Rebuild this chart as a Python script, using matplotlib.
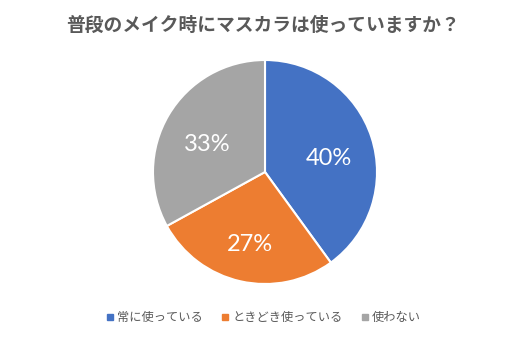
import matplotlib.pyplot as plt
import matplotlib.transforms as mtransforms
from matplotlib.lines import Line2D

# Survey answers and shares (%)
labels = ['常に使っている', 'ときどき使っている', '使わない']
shares = [40, 27, 33]
colors = ['#4472C4', '#ED7D31', '#A5A5A5']
title = '普段のメイク時にマスカラは使っていますか？'

plt.rcParams['font.family'] = ['Noto Sans CJK JP', 'DejaVu Sans']

W, H = 527, 339
fig = plt.figure(figsize=(W / 100, H / 100), dpi=100)
fig.patch.set_facecolor('white')

# pie axes: centre (265, 172) px, radius ~112 px
r = 112
ax = fig.add_axes([(265 - r) / W, (H - 172 - r) / H, 2 * r / W, 2 * r / H])
wedges, texts, autotexts = ax.pie(
    shares, colors=colors, startangle=90, counterclock=False,
    autopct='%d%%', pctdistance=0.6,
    wedgeprops=dict(edgecolor='white', linewidth=1.5),
    textprops=dict(color='white', fontsize=17, family=['Lato', 'DejaVu Sans']))
ax.set_aspect('equal')
ax.set_xlim(-1, 1)
ax.set_ylim(-1, 1)

# percentages sit a little below the wedge centroid
for t in autotexts:
    t.set_transform(mtransforms.offset_copy(t.get_transform(), fig=fig, y=-7, units='dots'))

fig.text(0.5, 1 - 25 / H, title, ha='center', va='center',
         fontsize=13.5, fontweight='bold', color='#595959')

handles = [Line2D([], [], marker='s', linestyle='', markersize=4.5,
                  markerfacecolor=c, markeredgecolor=c) for c in colors]
fig.legend(handles, labels, loc='center', bbox_to_anchor=(0.5, 21 / H),
           ncol=3, frameon=False, fontsize=8.8, labelcolor='#595959',
           handlelength=0.6, handletextpad=0.3, columnspacing=1.5)

fig.savefig('out.png', dpi=100, facecolor='white')
